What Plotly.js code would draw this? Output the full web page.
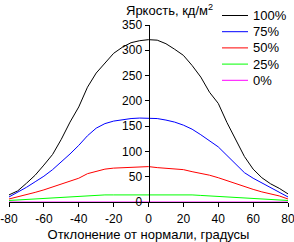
<!DOCTYPE html>
<html>
<head>
<meta charset="utf-8">
<script src="https://cdn.plot.ly/plotly-3.0.1.min.js"></script>
<style>
  html, body { margin: 0; padding: 0; background: #fff; }
  #chart { width: 294px; height: 242px; }
</style>
</head>
<body>
<div id="chart"></div>
<script>
// Viewing angle, degrees from the normal
const angles = [-80, -75, -70, -65, -60, -55, -50, -45, -40, -35, -30, -25, -20, -15, -10, -5, 0,
                5, 10, 15, 20, 25, 30, 35, 40, 45, 50, 55, 60, 65, 70, 75, 80];

// Luminance, cd/m2, at each brightness setting
const lum100 = [14, 22, 37, 53, 73, 94, 124, 158, 188, 227, 255, 275, 294, 306, 315, 319, 321,
                320, 313, 302, 290, 270, 247, 217, 195, 157, 123, 90, 65, 48, 36, 27, 16];
const lum75  = [10, 19, 29, 40, 51, 64, 79, 95, 112, 131, 146, 155, 160, 163, 165, 166, 166,
                165, 162, 158, 152, 144, 133, 121, 109, 92, 75, 58, 47, 38, 28, 19, 10];
const lum50  = [6, 10, 14, 19, 24, 30, 35, 41, 47, 56, 61, 65, 67, 68, 69, 69, 70,
                68, 67, 66, 64, 60, 57, 53, 48, 42, 36, 30, 25, 20, 16, 12, 6];
const lum25  = [3, 4, 5, 6, 7, 8, 9, 11, 12, 13, 13, 14, 14, 14, 15, 15, 15,
                15, 15, 14, 14, 14, 13, 12, 12, 11, 9, 8, 7, 6, 5, 4, 3];
const lum0   = [0, 0, 0, 0, 0, 0, 0, 0, 0, 0, 0, 0, 0, 0, 0, 0, 0,
                0, 0, 0, 0, 0, 0, 0, 0, 0, 0, 0, 0, 0, 0, 0, 0];

const seriesNames = ['100%', '75%', '50%', '25%', '0%'];
const seriesColors = ['#000000', '#0000ff', '#ff0000', '#00ff00', '#ff00ff'];
const seriesValues = [lum100, lum75, lum50, lum25, lum0];

const xTicks = [-80, -60, -40, -20, 0, 20, 40, 60, 80];
const yTicks = [0, 50, 100, 150, 200, 250, 300, 350];

const font = 'Liberation Sans, Arial, sans-serif';

// Figure geometry (pixels)
const W = 294, H = 242;
const M = { l: 9, r: 6, t: 25, b: 40 };
const plotW = W - M.l - M.r, plotH = H - M.t - M.b;
const px2paperX = px => (px - M.l) / plotW;
const px2paperY = py => (H - M.b - py) / plotH;

const traces = seriesValues.map((vals, i) => ({
  type: 'scatter',
  mode: 'lines',
  x: angles,
  y: vals,
  name: seriesNames[i],
  line: { color: seriesColors[i], width: 1 },
  hoverinfo: 'skip',
  showlegend: false
}));

// Compact key in the upper right corner: short line sample + label per series
const keyLineX0 = 222, keyLineX1 = 248, keyTextX = 251;
const keyRowY0 = 15.5, keyRowStep = 16.2;
const keyShapes = seriesNames.map((name, i) => ({
  type: 'line',
  xref: 'paper', yref: 'paper',
  x0: px2paperX(keyLineX0), x1: px2paperX(keyLineX1),
  y0: px2paperY(keyRowY0 + i * keyRowStep), y1: px2paperY(keyRowY0 + i * keyRowStep),
  line: { color: seriesColors[i], width: 1 }
}));
const keyLabels = seriesNames.map((name, i) => ({
  xref: 'paper', yref: 'paper',
  x: px2paperX(keyTextX), xanchor: 'left',
  y: px2paperY(keyRowY0 + i * keyRowStep), yanchor: 'middle',
  text: name,
  showarrow: false,
  font: { family: font, size: 13, color: '#000' }
}));

const layout = {
  width: W,
  height: H,
  margin: M,
  paper_bgcolor: '#ffffff',
  plot_bgcolor: '#ffffff',
  font: { family: font, size: 12, color: '#000' },
  showlegend: false,
  xaxis: {
    range: [-80, 80],
    tickvals: xTicks,
    ticktext: xTicks.map(String),
    ticklabeloverflow: 'allow',
    ticklabelstandoff: 2,
    showgrid: false,
    zeroline: false,
    showline: true,
    linecolor: '#000',
    linewidth: 1,
    ticks: 'outside',
    ticklen: 4,
    tickcolor: '#000',
    tickfont: { family: font, size: 12, color: '#000' },
    title: {
      text: 'Отклонение от нормали, градусы',
      font: { family: font, size: 13, color: '#000' },
      standoff: 5
    },
    fixedrange: true
  },
  yaxis: {
    range: [0, 350],
    tickvals: yTicks,
    ticktext: yTicks.map(String),
    showgrid: false,
    zeroline: false,
    showline: true,
    linecolor: '#000',
    linewidth: 1,
    ticks: 'outside',
    ticklen: 4,
    tickcolor: '#000',
    tickfont: { family: font, size: 12, color: '#000' },
    anchor: 'free',
    position: 0.5,
    fixedrange: true
  },
  shapes: keyShapes,
  annotations: [{
    xref: 'paper', yref: 'paper',
    x: px2paperX(124), xanchor: 'left',
    y: px2paperY(10.5), yanchor: 'middle',
    text: 'Яркость, кд/м<sup>2</sup>',
    showarrow: false,
    font: { family: font, size: 13, color: '#000' }
  }].concat(keyLabels)
};

Plotly.newPlot('chart', traces, layout, { staticPlot: true, displayModeBar: false });
</script>
</body>
</html>
